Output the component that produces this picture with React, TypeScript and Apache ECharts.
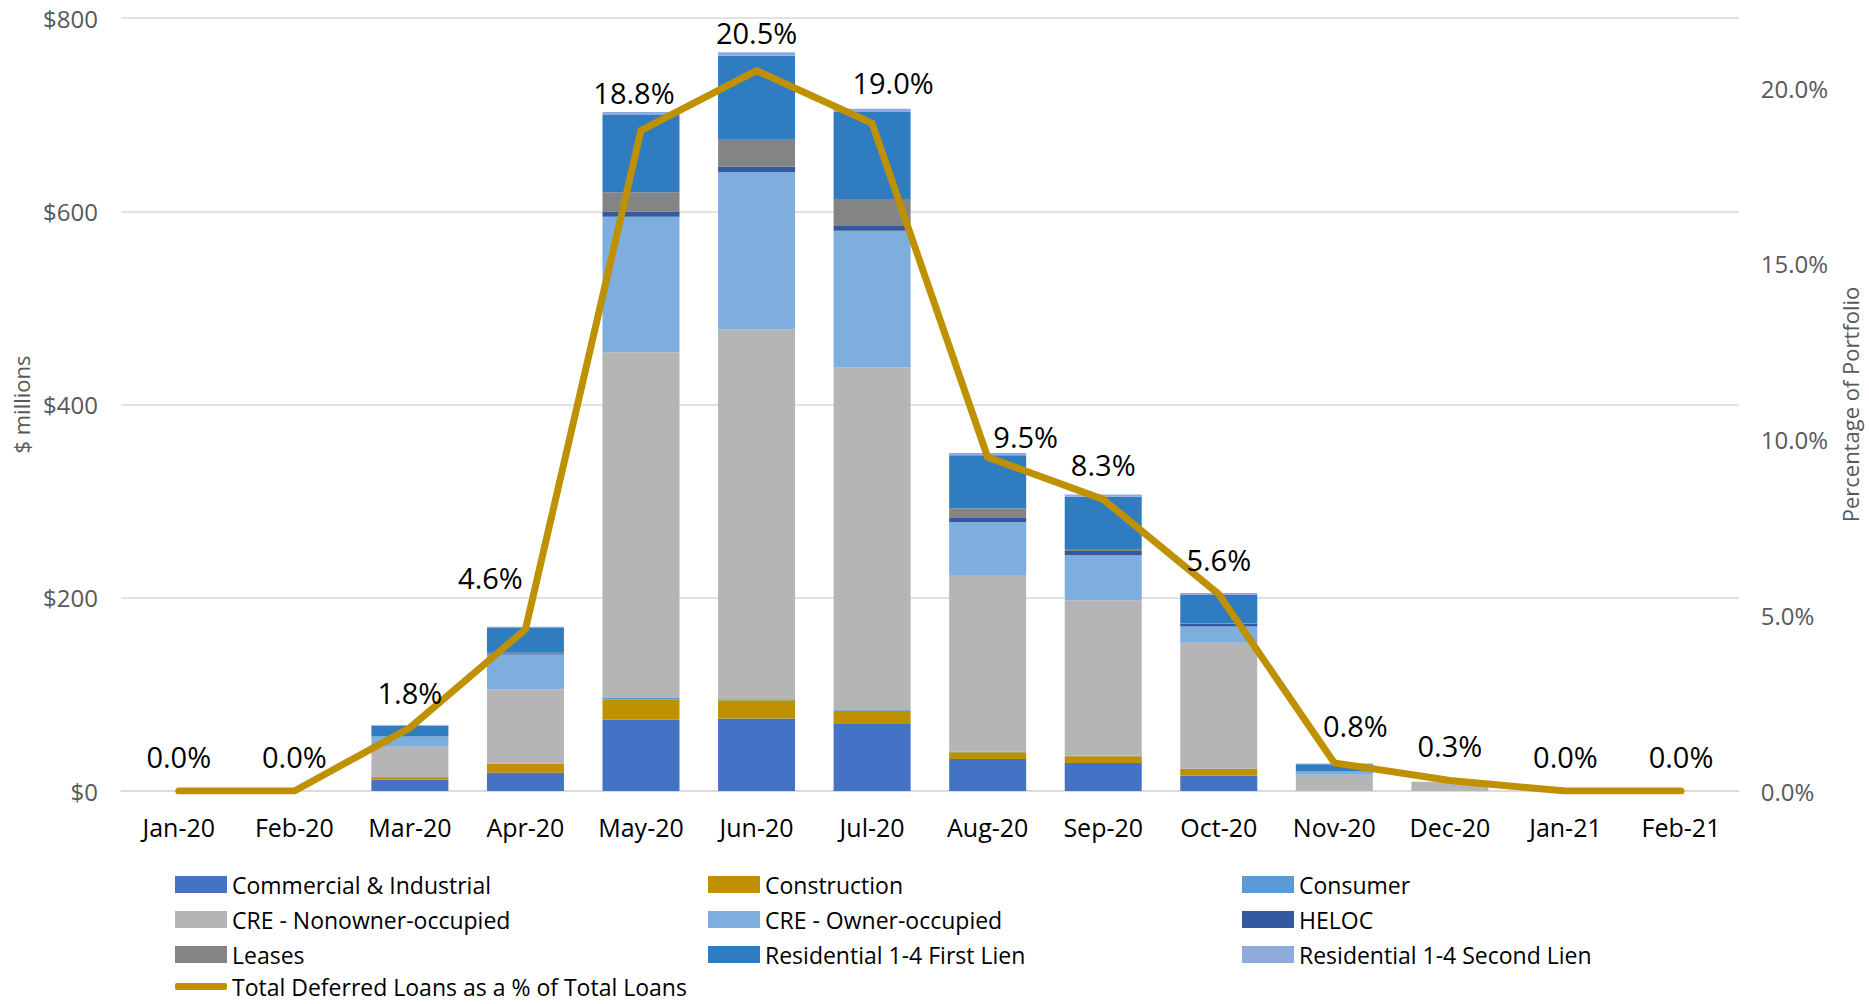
import React, { useEffect, useRef } from "react";
import * as echarts from "echarts";

const months = ["Jan-20", "Feb-20", "Mar-20", "Apr-20", "May-20", "Jun-20", "Jul-20", "Aug-20", "Sep-20", "Oct-20", "Nov-20", "Dec-20", "Jan-21", "Feb-21"];

const commercialIndustrial = [0, 0, 11.7, 19, 74, 75, 70, 33, 29, 16, 0, 0, 0, 0];
const construction = [0, 0, 2.5, 9, 21, 19, 13, 7, 7, 7, 0, 0, 0, 0];
const consumer = [0, 0, 0.3, 0.3, 1.2, 1, 0.7, 0.5, 0.5, 0.3, 0.2, 0, 0, 0];
const creNonowner = [0, 0, 31.3, 77, 358, 382.5, 354.5, 183, 161, 130, 16.5, 9.5, 0, 0];
const creOwner = [0, 0, 10.7, 36, 140, 163, 141.5, 55, 46.5, 17, 3.5, 0, 0, 0];
const heloc = [0, 0, 0, 1.3, 5.5, 5.5, 5, 4, 4.5, 3, 0, 0, 0, 0];
const leases = [0, 0, 0, 0.5, 20, 28, 28, 10, 2, 0.5, 0, 0, 0, 0];
const resFirstLien = [0, 0, 11, 25.5, 80, 87, 90, 55, 54, 29, 7.5, 0, 0, 0];
const resSecondLien = [0, 0, 0.7, 1.3, 3, 3.5, 3.5, 2.3, 2.4, 2, 0.8, 0, 0, 0];
const pctOfTotal = [0, 0, 1.8, 4.6, 18.8, 20.5, 19.0, 9.5, 8.3, 5.6, 0.8, 0.3, 0, 0];

const leftTicks = [0, 200, 400, 600, 800];
const rightTicks = [0, 5, 10, 15, 20];

const FONT = "'Open Sans', 'Noto Sans', sans-serif";

const barSeriesDefs = [
  { name: "Commercial & Industrial", data: commercialIndustrial, color: "#4472C4" },
  { name: "Construction", data: construction, color: "#BF9000" },
  { name: "Consumer", data: consumer, color: "#5B9BD5" },
  { name: "CRE - Nonowner-occupied", data: creNonowner, color: "#B5B5B5" },
  { name: "CRE - Owner-occupied", data: creOwner, color: "#7DAEDD" },
  { name: "HELOC", data: heloc, color: "#335AA1" },
  { name: "Leases", data: leases, color: "#848484" },
  { name: "Residential 1-4 First Lien", data: resFirstLien, color: "#2F7CC1" },
  { name: "Residential 1-4 Second Lien", data: resSecondLien, color: "#8FAADC" },
];

const lineName = "Total Deferred Loans as a % of Total Loans";

// label offsets (px) for points whose labels were moved
const labelOffsets: Record<number, [number, number]> = {
  3: [-35, -17],
  4: [-7, -3],
  5: [0, -3],
  6: [21, -6],
  7: [38, 14],
  10: [21, -2],
};

export default function App() {
  const ref = useRef<HTMLDivElement>(null);

  useEffect(() => {
    document.body.style.margin = "0";
    if (!ref.current) return;
    const chart = echarts.init(ref.current, undefined, { renderer: "svg" });

    const bars = barSeriesDefs.map((s) => ({
      name: s.name,
      type: "bar",
      stack: "loans",
      data: s.data,
      barWidth: 77,
      itemStyle: { color: s.color },
      emphasis: { disabled: true },
    }));

    const lineData = pctOfTotal.map((v, i) => {
      const off = labelOffsets[i];
      if (off) {
        return { value: v, label: { offset: off } };
      }
      return { value: v };
    });

    const legendCommon = {
      orient: "vertical",
      itemWidth: 52,
      itemHeight: 17,
      itemGap: 12,
      icon: "rect",
      selectedMode: false,
      textStyle: { fontFamily: FONT, fontSize: 23, color: "#000" },
    };

    chart.setOption({
      animation: false,
      textStyle: { fontFamily: FONT },
      grid: { left: 121, right: 129, top: 18, bottom: 1004 - 791, containLabel: false },
      legend: [
        { ...legendCommon, left: 170, top: 868, data: ["Commercial & Industrial", "CRE - Nonowner-occupied", "Leases"] },
        { ...legendCommon, left: 703, top: 868, data: ["Construction", "CRE - Owner-occupied", "Residential 1-4 First Lien"] },
        { ...legendCommon, left: 1237, top: 868, data: ["Consumer", "HELOC", "Residential 1-4 Second Lien"] },
        { ...legendCommon, left: 170, top: 970, itemHeight: 7, icon: "roundRect", data: [lineName] },
      ],
      xAxis: {
        type: "category",
        data: months,
        axisTick: { show: false },
        axisLine: { lineStyle: { color: "#D9D9D9", width: 1.5 } },
        axisLabel: { fontFamily: FONT, fontSize: 25, color: "#000", margin: 23 },
      },
      yAxis: [
        {
          type: "value",
          min: leftTicks[0],
          max: leftTicks[leftTicks.length - 1],
          interval: 200,
          name: "$ millions",
          nameLocation: "middle",
          nameRotate: 90,
          nameGap: 88,
          nameTextStyle: { fontFamily: FONT, fontSize: 22, color: "#595959" },
          axisLine: { show: false },
          axisTick: { show: false },
          splitLine: { lineStyle: { color: "#D9D9D9", width: 1.5 } },
          axisLabel: { fontFamily: FONT, fontSize: 24, color: "#595959", margin: 23, formatter: (v: number) => "$" + v },
        },
        {
          type: "value",
          min: 0,
          max: 22,
          interval: 5,
          name: "Percentage of Portfolio",
          nameLocation: "middle",
          nameRotate: 90,
          nameGap: 94,
          nameTextStyle: { fontFamily: FONT, fontSize: 22, color: "#595959" },
          axisLine: { show: false },
          axisTick: { show: false },
          splitLine: { show: false },
          axisLabel: {
            fontFamily: FONT,
            fontSize: 24,
            color: "#595959",
            margin: 22,
            formatter: (v: number) => (rightTicks.includes(Math.round(v * 1000) / 1000) ? v.toFixed(1) + "%" : ""),
          },
        },
      ],
      series: [
        ...bars,
        {
          name: lineName,
          type: "line",
          yAxisIndex: 1,
          data: lineData,
          z: 10,
          symbol: "circle",
          symbolSize: 1,
          showSymbol: true,
          itemStyle: { color: "#BF9000" },
          lineStyle: { color: "#BF9000", width: 7, cap: "round", join: "miter" },
          label: {
            show: true,
            position: "top",
            distance: 20,
            fontFamily: FONT,
            fontSize: 29,
            color: "#000",
            formatter: (p: any) => Number(p.value).toFixed(1) + "%",
          },
          emphasis: { disabled: true },
        },
      ],
    });

    return () => chart.dispose();
  }, []);

  return <div ref={ref} style={{ width: 1869, height: 1004 }} />;
}
